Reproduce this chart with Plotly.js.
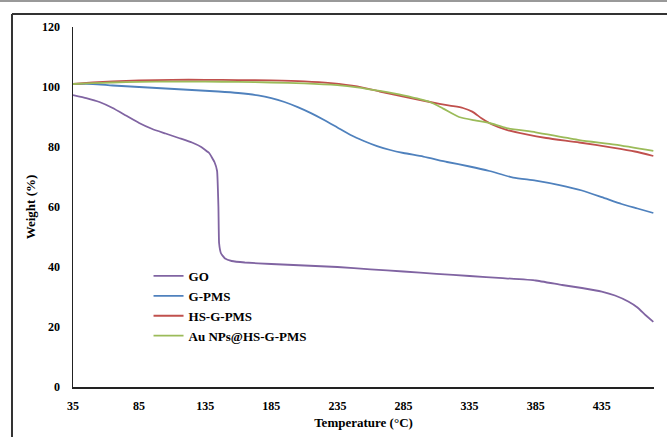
<!DOCTYPE html>
<html>
<head>
<meta charset="utf-8">
<script src="https://cdn.plot.ly/plotly-3.0.1.min.js"></script>
<style>html,body{margin:0;padding:0;background:#fff;}#chart{width:667px;height:437px;}</style>
</head>
<body>
<div id="chart"></div>
<script>
// Series names
const seriesNames = ["GO", "G-PMS", "HS-G-PMS", "Au NPs@HS-G-PMS"];

// GO
const goTemp = [35, 45, 55, 65, 75, 85, 95, 105, 115, 125, 132, 138, 142, 144, 145, 145.5, 147, 150, 155, 165, 185, 210, 235, 260, 285, 310, 335, 360, 385, 405, 420, 435, 445, 455, 462, 468, 474];
const goWeight = [97.3, 96.3, 95, 93, 90.5, 88, 86, 84.5, 83, 81.5, 80, 78, 75, 72, 60, 48, 44.5, 42.8, 42, 41.5, 41, 40.5, 40, 39.2, 38.5, 37.7, 37, 36.3, 35.5, 34, 33, 31.8, 30.5, 28.5, 26.5, 24, 21.7];

// G-PMS
const gpmsTemp = [35, 50, 65, 85, 105, 125, 145, 160, 175, 185, 195, 205, 215, 225, 235, 245, 255, 265, 275, 285, 300, 318, 335, 350, 368, 385, 403, 420, 435, 450, 462, 474];
const gpmsWeight = [101, 101, 100.5, 100, 99.5, 99, 98.5, 98, 97.2, 96.3, 95, 93.3, 91.3, 89, 86.5, 84, 82, 80.3, 79, 78, 76.8, 75, 73.5, 72, 69.8, 68.8, 67.3, 65.5, 63.3, 61, 59.5, 58];

// HS-G-PMS
const hsTemp = [35, 50, 65, 85, 110, 135, 160, 185, 210, 230, 250, 267, 285, 305, 320, 330, 337, 344, 352, 363, 378, 393, 418, 443, 460, 474];
const hsWeight = [101, 101.5, 101.9, 102.2, 102.4, 102.4, 102.3, 102.2, 101.9, 101.3, 100.2, 98.5, 96.8, 95, 93.8, 93, 91.8, 89.6, 87.5, 85.7, 84.2, 83, 81.5, 79.8, 78.5, 77];

// Au NPs@HS-G-PMS
const auTemp = [35, 50, 65, 85, 110, 135, 160, 185, 210, 235, 250, 267, 285, 305, 315, 327, 340, 350, 363, 385, 418, 445, 474];
const auWeight = [101, 101.3, 101.5, 101.7, 101.8, 101.8, 101.7, 101.5, 101.2, 100.6, 99.9, 98.7, 97.2, 95, 92.8, 90, 88.8, 88, 86.3, 84.9, 82.3, 80.8, 78.7];

// Tick labels
const xTicks = [35, 85, 135, 185, 235, 285, 335, 385, 435];
const yTicks = [0, 20, 40, 60, 80, 100, 120];

const colors = ["#8064A2", "#4F81BD", "#C0504D", "#9BBB59"];
const FONT = "Liberation Serif, Times New Roman, serif";

const xs = [goTemp, gpmsTemp, hsTemp, auTemp];
const ys = [goWeight, gpmsWeight, hsWeight, auWeight];

const traces = seriesNames.map((n, i) => ({
  type: "scatter", mode: "lines", name: n,
  x: xs[i], y: ys[i],
  line: {color: colors[i], width: 1.8, shape: "spline", smoothing: i === 0 ? 0.3 : 0.6}
}));

const layout = {
  width: 667, height: 437,
  margin: {l: 73, r: 13, t: 27, b: 50},
  paper_bgcolor: "#fff", plot_bgcolor: "#fff",
  showlegend: true,
  legend: {
    x: 0.13, y: 0.35, xanchor: "left", yanchor: "top",
    bgcolor: "rgba(0,0,0,0)",
    font: {family: FONT, size: 13, color: "#000", weight: 700},
    itemwidth: 30, tracegroupgap: 0
  },
  xaxis: {
    range: [35, 474.5], tickvals: xTicks, ticktext: xTicks.map(String),
    showgrid: false, zeroline: false,
    showline: true, linecolor: "#222", linewidth: 1.5,
    ticks: "outside", ticklen: 7, tickcolor: "rgba(0,0,0,0)",
    tickfont: {family: FONT, size: 12, color: "#000", weight: 700},
    title: {text: "Temperature (°C)", font: {family: FONT, size: 13, color: "#000", weight: 700}, standoff: 6}
  },
  yaxis: {
    range: [0, 120], tickvals: yTicks, ticktext: yTicks.map(String),
    showgrid: false, zeroline: false,
    showline: true, linecolor: "#222", linewidth: 1.5,
    ticks: "outside", ticklen: 9, tickcolor: "rgba(0,0,0,0)",
    tickfont: {family: FONT, size: 12, color: "#000", weight: 700},
    title: {text: "Weight (%)", font: {family: FONT, size: 13, color: "#000", weight: 700}, standoff: 3}
  },
  shapes: [
    {type: "line", xref: "paper", yref: "paper", x0: -0.2, x1: 1.1, y0: 1.072, y1: 1.072, line: {color: "#999", width: 2}},
    {type: "line", xref: "paper", yref: "paper", x0: -0.105, x1: 1.1, y0: 1.036, y1: 1.036, line: {color: "#333", width: 2}},
    {type: "line", xref: "paper", yref: "paper", x0: -0.105, x1: -0.105, y0: 1.036, y1: -0.2, line: {color: "#333", width: 2}}
  ]
};

Plotly.newPlot("chart", traces, layout, {displayModeBar: false, staticPlot: true});
</script>
</body>
</html>
